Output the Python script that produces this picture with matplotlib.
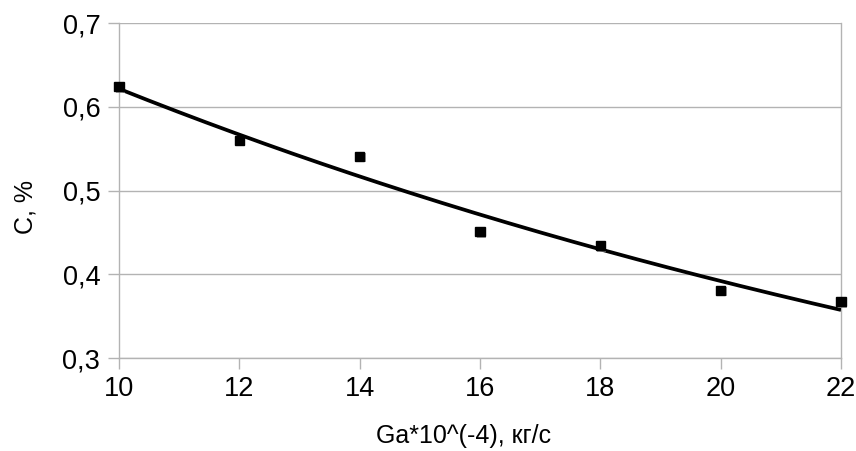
import numpy as np
import matplotlib
matplotlib.use("Agg")
import matplotlib.pyplot as plt
import matplotlib.patheffects as pe
from matplotlib.ticker import FuncFormatter

plt.rcParams['font.family'] = ['Liberation Sans', 'DejaVu Sans']

# Data
ga = [10, 12, 14, 16, 18, 20, 22]
conc = [0.624, 0.560, 0.541, 0.451, 0.434, 0.381, 0.367]
x_ticks = [10, 12, 14, 16, 18, 20, 22]
y_ticks = [0.3, 0.4, 0.5, 0.6, 0.7]
x_label = "Ga*10^(-4), кг/с"
y_label = "C, %"

# Exponential trend line (least squares on log)
b, a = np.polyfit(ga, np.log(conc), 1)
xt = np.linspace(min(ga), max(ga), 200)
yt = np.exp(a + b * xt)

fig = plt.figure(figsize=(8.56, 4.51), dpi=100)
ax = fig.add_axes([119/856, 1 - 358/451, (841-119)/856, (358-23.3)/451])

grid_c = '#b3b3b3'
ax.set_xlim(10, 22)
ax.set_ylim(0.3, 0.7)
ax.set_xticks(x_ticks)
ax.set_yticks(y_ticks)
ax.yaxis.set_major_formatter(FuncFormatter(lambda v, p: f"{v:.1f}".replace('.', ',')))
ax.grid(axis='y', color=grid_c, linewidth=1)
ax.set_axisbelow(True)
for s in ['left', 'right', 'bottom']:
    ax.spines[s].set_color(grid_c)
    ax.spines[s].set_linewidth(1)
ax.spines['top'].set_visible(False)
ax.tick_params(axis='both', colors=grid_c, labelcolor='black', labelsize=19.5, length=8, width=1)
ax.tick_params(axis='y', pad=5.5)
ax.tick_params(axis='x', pad=5)

ax.plot(xt, yt, color='black', linewidth=2.7, solid_capstyle='butt', zorder=3)
ax.plot(ga, conc, linestyle='none', marker='s', markersize=6.5, color='black', zorder=4, clip_on=False,
        path_effects=[pe.SimplePatchShadow(offset=(1, -1), shadow_rgbFace='#808080', alpha=0.7), pe.Normal()])

ax.set_xlabel(x_label, fontsize=18)
ax.set_ylabel(y_label, fontsize=18)
ax.xaxis.set_label_coords((463.5-119)/722, (358-436)/334.7)
ax.xaxis.label.set_va('center')
ax.yaxis.set_label_coords((25-119)/722, (358-207)/334.7)
ax.yaxis.label.set_va('center')

fig.savefig('out.png', dpi=100)
